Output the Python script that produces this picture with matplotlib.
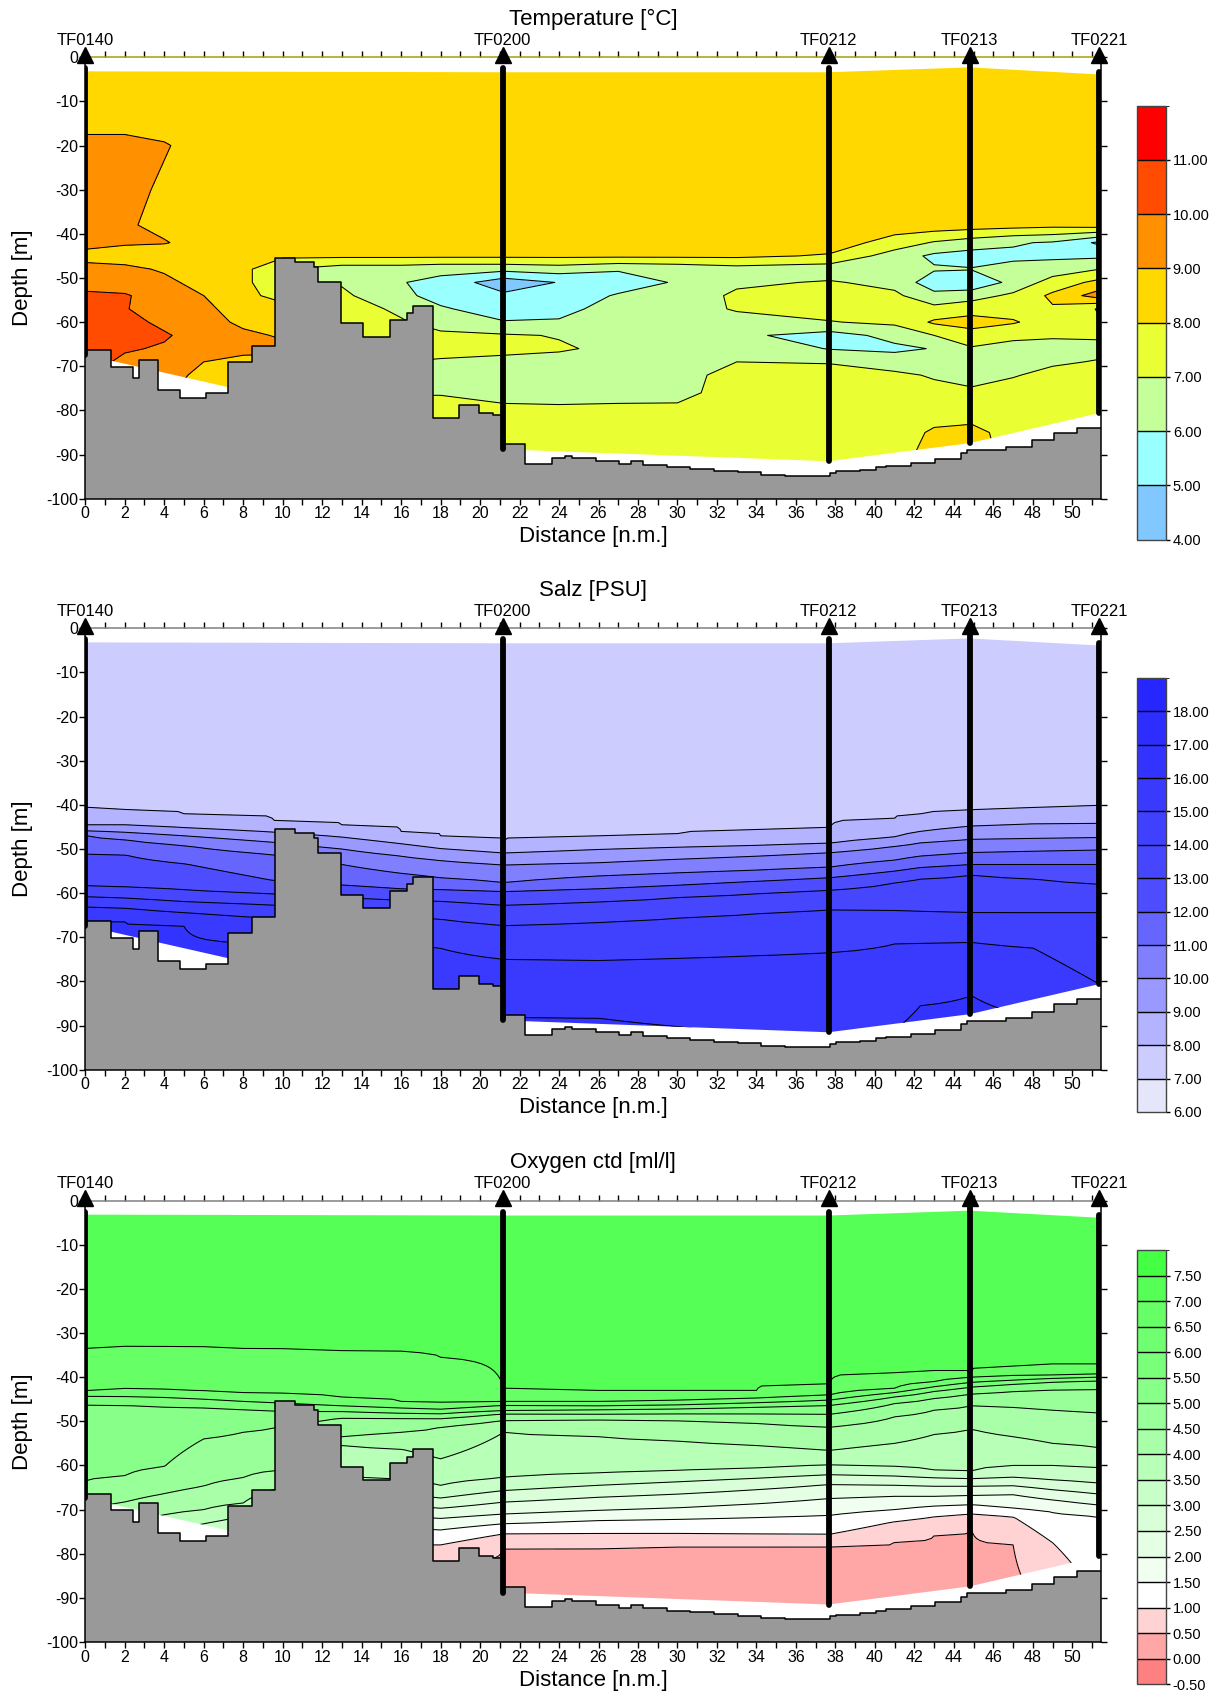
import numpy as np
import matplotlib
matplotlib.use("Agg")
import matplotlib.pyplot as plt
from matplotlib.colors import ListedColormap, BoundaryNorm
from matplotlib.colorbar import ColorbarBase
from matplotlib.patches import Polygon

plt.rcParams['font.family'] = ['Liberation Sans', 'DejaVu Sans']

# ---- stations along the section ----
station_names = ["TF0140", "TF0200", "TF0212", "TF0213", "TF0221"]
station_x = [0.0, 21.15, 37.65, 44.8, 51.35]
station_top = [-3.2, -3.4, -3.4, -2.3, -3.9]        # first good sample
station_bottom = [-67.4, -88.8, -91.5, -87.4, -80.6]  # deepest sample
cast_top = [-2.5, -2.5, -2.5, 0.0, -3.3]
X_END = 51.45

# ---- bottom topography (step starts, depth) ----
bathy_x = [0, 1.32, 2.42, 2.7, 3.66, 4.8, 6.14, 7.24, 8.46, 9.6, 10.6, 11.6, 11.8,
           12.94, 14.08, 15.42, 16.32, 16.62, 17.6, 18.92, 19.92, 20.66, 21.2, 22.3,
           23.66, 24.3, 24.66, 25.86, 27.05, 27.65, 28.25, 29.45, 30.65, 31.85, 33.05,
           34.25, 35.45, 37.75, 38.05, 39.25, 40.05, 40.55, 41.85, 43.05, 44.35, 44.65,
           46.65, 47.95, 49.05, 50.25]
bathy_z = [-66.4, -70.2, -72.7, -68.6, -75.4, -77.2, -76.0, -69.1, -65.5, -45.4, -46.3,
           -47.5, -50.9, -60.3, -63.4, -59.5, -58.0, -56.3, -81.6, -78.7, -80.6, -81.0,
           -87.6, -92.1, -90.7, -90.3, -90.8, -91.5, -92.2, -91.5, -92.3, -92.9, -93.3,
           -93.7, -94.0, -94.6, -94.8, -94.2, -93.8, -93.4, -92.9, -92.5, -91.8, -91.0,
           -89.7, -88.9, -88.2, -86.8, -85.2, -83.9]

# ---- temperature: values on a distance/depth grid ----
temp_x = [0, 2, 4, 6, 8, 10, 13, 16, 18, 21.2, 24, 27, 30, 33, 37.7, 41, 43, 44.9, 47, 49, 51.4]
temp_z = [-2, -15, -20, -30, -38, -42, -45, -48, -51, -54, -57, -60, -63, -66, -69, -72,
          -76, -80, -85, -90, -95]
temp_vals = [
    [8.5] * 21,
    [8.5] * 21,
    [9.5, 9.5, 9.1, 8.5, 8.5, 8.5, 8.5, 8.5, 8.5, 8.5, 8.5, 8.5, 8.5, 8.5, 8.5, 8.5, 8.5, 8.5, 8.5, 8.5, 8.5],
    [9.5, 9.4, 8.8, 8.5, 8.5, 8.5, 8.5, 8.5, 8.5, 8.5, 8.5, 8.5, 8.5, 8.5, 8.5, 8.5, 8.5, 8.5, 8.5, 8.5, 8.5],
    [9.5, 9.1, 8.8, 8.6, 8.5, 8.5, 8.5, 8.5, 8.5, 8.5, 8.5, 8.5, 8.5, 8.5, 8.5, 8.5, 8.6, 8.5, 8.4, 8.3, 8.5],
    [9.3, 9.1, 9.05, 8.7, 8.5, 8.5, 8.5, 8.5, 8.5, 8.4, 8.4, 8.4, 8.4, 8.4, 8.5, 7.6, 6.9, 6.5, 6.1, 5.9, 4.8],
    [8.7, 8.6, 8.5, 8.5, 8.4, 8.2, 8.2, 8.2, 8.2, 8.2, 8.2, 8.2, 8.2, 8.2, 7.9, 6.5, 5.8, 5.6, 5.8, 5.8, 5.8],
    [9.3, 9.2, 8.9, 8.5, 8.3, 7.0, 6.5, 6.5, 6.3, 6.3, 6.5, 6.1, 6.3, 6.6, 6.4, 6.6, 6.1, 6.05, 6.3, 6.5, 7.0],
    [9.6, 9.5, 9.2, 8.7, 8.3, 7.0, 6.9, 6.05, 5.7, 4.4, 5.05, 5.5, 6.1, 6.8, 7.1, 6.7, 5.4, 5.2, 6.3, 7.4, 8.3],
    [10.2, 10.1, 9.5, 9.0, 8.4, 7.5, 7.2, 6.2, 5.7, 5.2, 5.4, 6.1, 6.3, 7.2, 7.5, 7.2, 6.3, 6.6, 7.2, 8.2, 9.5],
    [10.4, 10.05, 9.6, 9.2, 8.6, 8.5, 7.5, 6.8, 6.1, 5.6, 5.7, 6.4, 6.5, 7.1, 7.4, 7.4, 7.3, 7.6, 7.6, 7.9, 6.9],
    [10.5, 10.3, 9.8, 9.4, 8.8, 8.6, 7.7, 7.1, 6.6, 6.05, 6.1, 6.6, 6.6, 6.6, 6.95, 7.2, 8.15, 8.4, 8.1, 7.5, 7.05],
    [10.5, 10.4, 10.1, 9.6, 9.2, 8.9, 8.05, 7.4, 7.2, 7.1, 6.95, 6.7, 6.7, 6.2, 5.6, 6.3, 7.0, 7.6, 7.2, 7.1, 7.1],
    [10.5, 10.1, 9.9, 9.5, 9.3, 9.2, 8.0, 7.4, 7.3, 7.2, 7.1, 6.8, 6.8, 6.7, 5.95, 5.8, 6.05, 6.9, 6.7, 6.7, 6.8],
    [10.4, 9.8, 9.5, 9.0, 8.7, 8.7, 8.0, 7.0, 6.9, 6.8, 6.7, 6.6, 6.8, 7.0, 6.95, 6.5, 6.7, 6.6, 6.7, 6.9, 7.05],
    [10.3, 9.6, 9.3, 8.8, 8.5, 8.5, 7.8, 6.8, 6.6, 6.6, 6.5, 6.5, 6.7, 7.3, 7.3, 7.2, 6.9, 6.8, 6.95, 7.2, 7.3],
    [10.2, 9.5, 9.1, 8.7, 8.5, 8.5, 7.8, 6.95, 6.95, 6.7, 6.6, 6.7, 6.8, 7.3, 7.4, 7.4, 7.3, 7.1, 7.3, 7.4, 7.4],
    [10.1, 9.4, 9.0, 8.6, 8.5, 8.5, 7.8, 7.3, 7.3, 7.2, 7.2, 7.2, 7.15, 7.4, 7.5, 7.5, 7.5, 7.5, 7.5, 7.5, 7.5],
    [10.0, 9.3, 8.9, 8.6, 8.5, 8.5, 7.8, 7.4, 7.4, 7.5, 7.5, 7.5, 7.5, 7.5, 7.5, 7.5, 8.15, 8.3, 7.6, 7.6, 7.6],
    [10.0, 9.3, 8.9, 8.6, 8.5, 8.5, 7.8, 7.4, 7.4, 7.5, 7.6, 7.6, 7.6, 7.5, 7.5, 7.7, 8.3, 8.4, 7.7, 7.6, 7.6],
    [10.0, 9.3, 8.9, 8.6, 8.5, 8.5, 7.8, 7.4, 7.4, 7.5, 7.6, 7.6, 7.6, 7.5, 7.5, 7.6, 8.0, 8.2, 7.7, 7.6, 7.6],
]
temp_levels = [4, 5, 6, 7, 8, 9, 10, 11, 12]
temp_colors = ['#80c8ff', '#99ffff', '#c4ff99', '#eaff33', '#ffd800', '#ff9000', '#ff4c00', '#ff0000']

# ---- salinity: depth of each isohaline at each column ----
sal_x = [0, 2, 5, 9.6, 13, 16, 18, 21.2, 26, 30, 34, 37.7, 41, 42.3, 44.9, 48, 51.4]
sal_iso = [8, 9, 10, 11, 12, 13, 14, 15, 16]
sal_depths = [
    [-40.7, -44.5, -45.9, -46.9, -51.1, -58.4, -60.8, -63.1, -66.3],
    [-41.3, -44.5, -46.2, -47.9, -51.3, -58.6, -61.1, -63.4, -66.5],
    [-42.0, -45.2, -47.0, -49.2, -53.3, -59.3, -61.9, -64.4, -67.5],
    [-43.7, -46.2, -48.5, -51.3, -57.2, -60.2, -62.7, -65.8, -71.5],
    [-44.5, -47.3, -50.0, -53.5, -58.2, -61.0, -63.8, -68.0, -80.0],
    [-46.0, -48.8, -51.6, -55.5, -59.0, -61.6, -65.2, -71.0, -83.0],
    [-47.0, -49.9, -52.6, -56.5, -59.2, -61.8, -65.9, -72.5, -85.0],
    [-48.1, -50.9, -53.6, -57.6, -59.6, -62.7, -67.3, -75.0, -88.1],
    [-47.0, -50.1, -53.1, -56.1, -59.0, -62.0, -66.6, -75.2, -88.3],
    [-46.5, -49.6, -52.3, -55.4, -58.2, -61.0, -65.6, -74.7, -90.2],
    [-45.9, -49.2, -51.6, -54.8, -57.3, -60.1, -64.6, -74.1, -92.5],
    [-45.4, -48.7, -50.8, -54.1, -56.5, -59.3, -63.7, -73.5, -93.5],
    [-43.1, -47.3, -49.4, -52.5, -55.0, -57.6, -63.9, -71.5, -91.0],
    [-42.2, -46.0, -48.6, -51.6, -54.2, -56.7, -64.1, -71.3, -85.5],
    [-41.4, -44.8, -47.8, -50.8, -53.5, -55.9, -64.4, -71.1, -83.2],
    [-40.9, -44.3, -47.6, -50.5, -53.5, -56.7, -64.4, -72.4, -88.0],
    [-40.4, -44.2, -47.4, -50.2, -53.5, -58.0, -64.3, -80.7, -95.0],
]
sal_levels = [6, 7, 8, 9, 10, 11, 12, 13, 14, 15, 16, 17, 18, 19]
sal_colors = ['#e6e6fa', '#ccccff', '#b3b3ff', '#9999ff', '#8080ff', '#6666ff', '#4d4dff',
              '#4646ff', '#4040ff', '#3a3aff', '#3333ff', '#2d2dff', '#2626ff']

# ---- oxygen: depth of each isoline at each column ----
oxy_x = [0, 2, 4, 6, 8, 10, 13, 16, 18, 21.2, 26, 30, 34, 37.7, 41, 43, 44.9, 47, 49, 51.4]
oxy_iso = [7.0, 6.5, 6.0, 5.5, 5.0, 4.5, 4.0, 3.5, 3.0, 2.5, 2.0, 1.5, 1.0, 0.5]
oxy_depths = [
    [-33.5, -43.2, -44.3, -46.1, -63.5, -70.0, -75.0, -78.0, -81.0, -84.0, -87.0, -90.0, -93.0, -96.0],
    [-33.1, -42.7, -44.4, -46.3, -62.4, -68.3, -73.0, -77.0, -80.0, -83.0, -86.0, -89.0, -92.0, -95.0],
    [-33.2, -42.9, -44.6, -46.6, -60.3, -66.4, -71.2, -75.0, -78.0, -81.0, -84.0, -87.0, -90.0, -93.0],
    [-33.3, -43.2, -45.0, -47.0, -54.0, -64.7, -70.0, -73.2, -77.0, -80.0, -83.0, -86.0, -89.0, -92.0],
    [-33.5, -43.5, -45.5, -47.3, -52.5, -62.8, -68.5, -71.5, -75.0, -78.0, -81.0, -84.0, -87.0, -90.0],
    [-33.7, -43.8, -45.9, -47.7, -51.0, -61.0, -65.0, -68.0, -71.0, -74.0, -77.0, -80.0, -84.0, -88.0],
    [-34.0, -44.5, -46.5, -47.8, -49.2, -53.5, -55.5, -62.5, -66.0, -69.0, -71.5, -74.0, -78.0, -83.0],
    [-34.3, -45.5, -47.0, -48.2, -49.3, -52.5, -56.3, -63.2, -66.5, -69.0, -71.5, -74.0, -78.0, -83.0],
    [-35.5, -45.9, -47.3, -48.3, -49.4, -51.3, -58.5, -64.5, -67.4, -69.7, -72.0, -74.6, -78.0, -82.0],
    [-42.5, -45.5, -46.4, -47.6, -48.3, -49.8, -52.5, -62.8, -65.7, -68.3, -71.0, -73.2, -75.5, -78.7],
    [-43.2, -45.5, -46.5, -47.4, -48.4, -49.6, -53.5, -61.8, -64.5, -67.2, -70.2, -72.5, -75.4, -78.6],
    [-43.2, -45.3, -46.3, -47.2, -48.3, -49.8, -54.5, -61.2, -63.7, -66.5, -69.6, -72.2, -75.4, -78.5],
    [-43.1, -44.8, -45.8, -46.8, -48.3, -50.5, -55.5, -60.6, -62.9, -65.5, -68.7, -71.8, -75.5, -78.5],
    [-41.5, -44.0, -45.2, -46.4, -48.4, -51.3, -56.6, -59.9, -62.1, -64.3, -67.5, -71.3, -75.6, -78.4],
    [-39.0, -42.5, -43.5, -44.5, -46.0, -49.0, -55.0, -60.3, -62.4, -64.5, -67.0, -70.0, -72.7, -77.3],
    [-38.5, -41.0, -42.2, -43.2, -44.8, -47.5, -53.0, -61.0, -62.8, -64.7, -67.0, -69.2, -71.6, -75.8],
    [-38.7, -40.0, -41.2, -42.2, -43.8, -46.5, -51.8, -61.4, -63.0, -64.7, -66.8, -68.9, -71.0, -74.6],
    [-37.5, -39.7, -40.7, -41.6, -43.2, -46.8, -53.5, -60.0, -62.7, -64.6, -66.6, -69.7, -71.6, -78.0],
    [-37.1, -39.5, -40.3, -41.1, -42.9, -47.5, -55.0, -60.0, -63.3, -65.5, -67.8, -70.6, -77.5, -92.0],
    [-37.0, -39.4, -40.0, -40.8, -42.7, -48.1, -56.0, -60.5, -64.0, -66.5, -69.0, -71.6, -92.0, -97.0],
]
oxy_levels = [-0.5, 0.0, 0.5, 1.0, 1.5, 2.0, 2.5, 3.0, 3.5, 4.0, 4.5, 5.0, 5.5, 6.0, 6.5, 7.0, 7.5, 8.0]
oxy_colors = ['#ff8080', '#ffa6a6', '#ffd3d3', '#ffffff', '#f0fff0', '#e4ffe4', '#d8ffd8',
              '#c8ffc8', '#b8ffb8', '#a8ffa8', '#99ff99', '#88ff88', '#7aff7a', '#70ff70',
              '#66ff66', '#55ff55', '#44ff44']


def profile_field(col_x, depth_table, iso, top_val, bottom_val, zgrid):
    field = np.empty((len(zgrid), len(col_x)))
    for j, depths in enumerate(depth_table):
        zp = np.concatenate([[0.0], -np.asarray(depths), [100.0]])
        fp = np.concatenate([[top_val], iso, [bottom_val]])
        field[:, j] = np.interp(-zgrid, zp, fp)
    return field


def draw_panel(ax, cax, title, gx, gz, field, levels, colors, top_spine):
    cmap = ListedColormap(colors)
    norm = BoundaryNorm(levels, cmap.N)
    verts = list(zip(station_x, station_top)) + list(zip(station_x[::-1], station_bottom[::-1]))
    clip = Polygon(verts, closed=True, transform=ax.transData)

    cf = ax.contourf(gx, gz, field, levels=levels, cmap=cmap, norm=norm, zorder=1)
    cf.set_clip_path(clip)
    cl = ax.contour(gx, gz, field, levels=levels, colors='black', linewidths=0.75, zorder=2)
    cl.set_clip_path(clip)

    # bottom topography
    bx = bathy_x + [X_END]
    bz = bathy_z + [bathy_z[-1]]
    ax.fill_between(bx, bz, -100, step='post', facecolor='#999999', edgecolor='none', zorder=3)
    ax.step(bx, bz, where='post', color='black', lw=1.1, zorder=4)

    # stations
    for name, sx, t, b in zip(station_names, station_x, cast_top, station_bottom):
        ax.plot([sx, sx], [t, b], color='black', lw=4.2, solid_capstyle='round', zorder=5)
        ax.plot(sx, 0.6, marker='^', ms=11, color='black', clip_on=False, zorder=7)
        ax.text(sx, 3.8, name, ha='center', va='center', fontsize=12)

    ax.text(X_END / 2, 8.5, title, ha='center', va='center', fontsize=16)

    ax.set_xlim(0, X_END)
    ax.set_ylim(-100, 0)
    ax.set_xticks(np.arange(0, 52, 1))
    ax.set_xticklabels([str(i) if i % 2 == 0 else '' for i in range(52)])
    ax.set_yticks(np.arange(-100, 1, 10))
    ax.set_yticklabels([str(v) for v in range(-100, 1, 10)])
    ax.tick_params(axis='x', top=True, bottom=True, direction='out', length=4,
                   width=1, labelsize=11.5, pad=1.5)
    ax.tick_params(axis='y', left=True, right=True, direction='out', length=4,
                   width=1, labelsize=11.5, pad=1)
    for sp in ax.spines.values():
        sp.set_zorder(6)
        sp.set_linewidth(1.1)
    ax.spines['top'].set_color(top_spine)

    cb = ColorbarBase(cax, cmap=cmap, norm=norm, boundaries=levels,
                      ticks=levels[:-1], drawedges=True)
    cb.set_ticks(levels[:-1], labels=[f"{v:.2f}" for v in levels[:-1]])
    cb.outline.set_edgecolor('#444444')
    cb.outline.set_linewidth(1.0)
    cb.dividers.set_color('black')
    cb.dividers.set_linewidth(1.0)
    cax.tick_params(length=3, width=1, labelsize=10.5, pad=2)


fig = plt.figure(figsize=(12.2, 16.93), dpi=100)
fig.patch.set_facecolor('white')

ax_left, ax_w = 0.0699, 0.8325
ax_h = 0.2608
panel_bottoms = [0.7054, 0.3681, 0.0301]
cb_left, cb_w, cb_h = 0.9318, 0.0238, 0.2564
cb_bottoms = [0.6812, 0.3432, 0.0052]

zgrid = np.linspace(-0.5, -99.5, 199)
sal_field = profile_field(sal_x, sal_depths, sal_iso, 7.4, 16.6, zgrid)
oxy_field = profile_field(oxy_x, oxy_depths, oxy_iso, 7.3, 0.3, zgrid)

panels = [
    ("Temperature [\u00b0C]", temp_x, temp_z, np.array(temp_vals), temp_levels, temp_colors, '#a89c10'),
    ("Salz [PSU]", sal_x, zgrid, sal_field, sal_levels, sal_colors, '#808080'),
    ("Oxygen ctd [ml/l]", oxy_x, zgrid, oxy_field, oxy_levels, oxy_colors, '#808080'),
]

for (title, gx, gz, field, levels, colors, tcol), pb, cbb in zip(panels, panel_bottoms, cb_bottoms):
    ax = fig.add_axes([ax_left, pb, ax_w, ax_h])
    cax = fig.add_axes([cb_left, cbb, cb_w, cb_h])
    draw_panel(ax, cax, title, gx, gz, field, levels, colors, tcol)
    fig.text(0.0186, pb + ax_h / 2, "Depth [m]", rotation=90, ha='center', va='center', fontsize=16)
    fig.text(ax_left + ax_w / 2, pb - 38 / 1693, "Distance [n.m.]", ha='center', va='center', fontsize=16)

fig.savefig("out.png", dpi=100, facecolor='white')
